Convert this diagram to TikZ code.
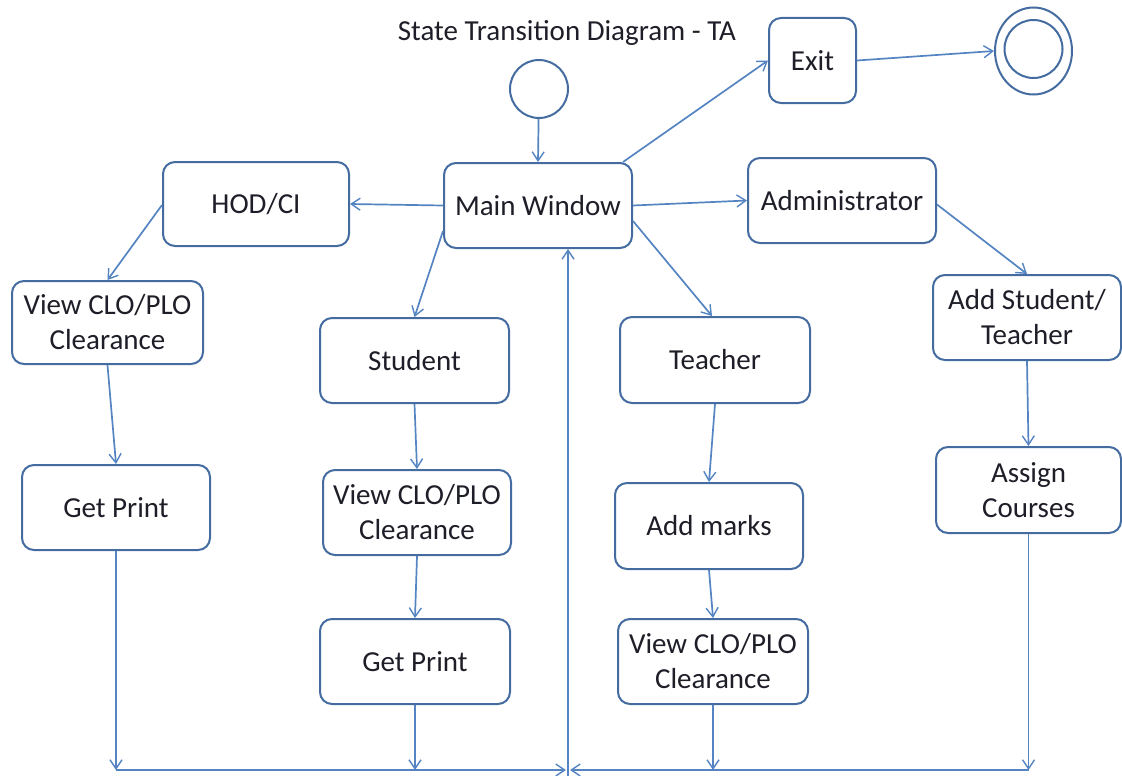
\documentclass[tikz,border=0pt]{standalone}
\usepackage{fontspec}
\setmainfont{Carlito}
\usetikzlibrary{arrows.meta,shapes.geometric,calc}
\definecolor{boxc}{RGB}{68,108,160}
\definecolor{linec}{RGB}{84,132,194}
\definecolor{txtc}{RGB}{30,30,40}
\begin{document}
\begin{tikzpicture}[x=1pt,y=-1pt,
  font=\fontsize{29}{35}\selectfont,
  state/.style={draw=boxc, line width=2pt, rounded corners=12pt, fill=white,
    align=center, text=txtc, inner sep=0pt},
  conn/.style={draw=linec, line width=1.7pt,
    -{Straight Barb[length=9pt,width=12pt,line width=1.4pt]}}]
\useasboundingbox (0,0) rectangle (1122,776);

% title
\node[text=txtc] (title) at (567,33) {State Transition Diagram - TA};

% initial and final states
\node[draw=boxc, line width=2pt, circle, minimum size=58pt, inner sep=0pt] (start) at (539,89) {};
\node[draw=boxc, line width=2pt, ellipse, minimum width=77pt, minimum height=87pt, inner sep=0pt] (end) at (1033.5,51) {};
\draw[boxc, line width=2pt] ([yshift=2pt]end.center) circle (29pt);

% states
\node[state, minimum width=87pt,  minimum height=85pt] (exit)    at (812.5,60.5) {Exit};
\node[state, minimum width=188pt, minimum height=85pt] (main)    at (538,205.5)  {Main Window};
\node[state, minimum width=186pt, minimum height=84pt] (hod)     at (256,204)    {HOD/CI};
\node[state, minimum width=188pt, minimum height=85pt] (admin)   at (842,200.5)  {Administrator};
\node[state, minimum width=191pt, minimum height=83pt] (view1)   at (107.5,322.5) {View CLO/PLO\\Clearance};
\node[state, minimum width=188pt, minimum height=85pt] (getp1)   at (116,507.5)  {Get Print};
\node[state, minimum width=189pt, minimum height=85pt] (student) at (414.5,360.5) {Student};
\node[state, minimum width=188pt, minimum height=85pt] (view2)   at (417,512.5)  {View CLO/PLO\\Clearance};
\node[state, minimum width=190pt, minimum height=85pt] (getp2)   at (415,661.5)  {Get Print};
\node[state, minimum width=190pt, minimum height=86pt] (teacher) at (715,360)    {Teacher};
\node[state, minimum width=188pt, minimum height=86pt] (addm)    at (709,526)    {Add marks};
\node[state, minimum width=190pt, minimum height=85pt] (view3)   at (713,661.5)  {View CLO/PLO\\Clearance};
\node[state, minimum width=188pt, minimum height=85pt] (addst)   at (1027,317.5) {Add Student/\\Teacher};
\node[state, minimum width=185pt, minimum height=86pt] (assign)  at (1028.5,490) {Assign\\Courses};

% return bus along the bottom
\coordinate (bus) at (568,770);

% transitions
\draw[conn] (start) -- (main.north);
\draw[conn] ([xshift=-10pt]main.north east) -- (exit.west);
\draw[conn] (exit.east) -- (end.west);
\draw[conn] (main.west) -- (hod.east);
\draw[conn] (main.east) -- (admin.west);
\draw[conn] ([yshift=-1pt]hod.west) -- (view1.north);
\draw[conn] (view1.south) -- (getp1.north);
\draw[conn] ([yshift=18pt]main.south west) -- (student.north);
\draw[conn] (student.south) -- (view2.north);
\draw[conn] (view2.south) -- (getp2.north);
\draw[conn] ([yshift=28pt]main.south east) -- ([xshift=-3pt]teacher.north);
\draw[conn] (teacher.south) -- (addm.north);
\draw[conn] (addm.south) -- (view3.north);
\draw[conn] ([yshift=-4pt]admin.east) -- (addst.north);
\draw[conn] (addst.south) -- (assign.north);

% drops to the bus
\draw[conn] (getp1.south) -- (getp1.south |- bus);
\draw[conn] (getp2.south) -- (getp2.south |- bus);
\draw[conn] (view3.south) -- (view3.south |- bus);
\draw[conn] (assign.south) -- (assign.south |- bus);
\draw[conn] (getp1.south |- bus) -- ([xshift=-2pt]bus);
\draw[conn] (assign.south |- bus) -- ([xshift=2pt]bus);
\draw[conn] ([yshift=-6pt]bus) -- (bus |- main.south);
\end{tikzpicture}
\end{document}
